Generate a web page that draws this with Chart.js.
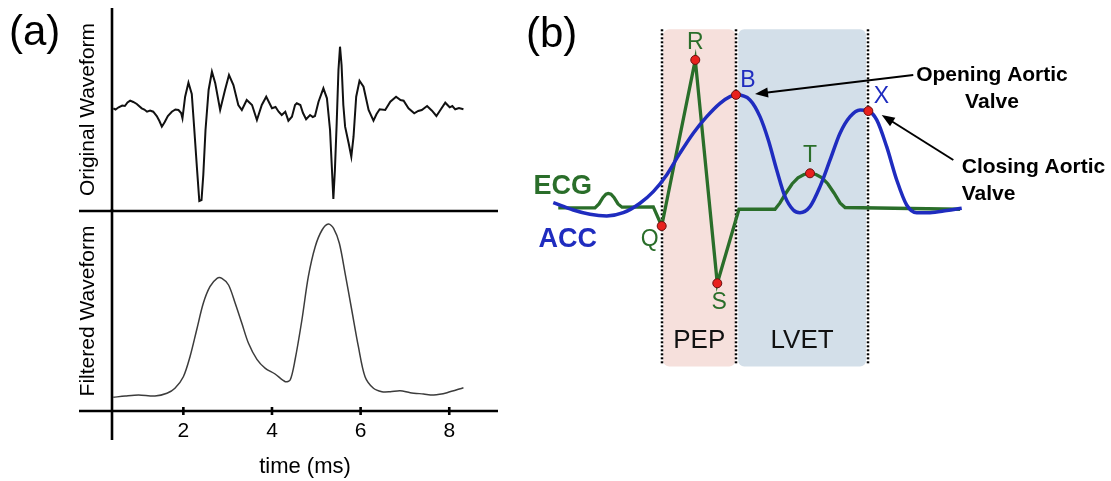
<!DOCTYPE html>
<html><head><meta charset="utf-8">
<script src="https://cdn.jsdelivr.net/npm/chart.js@4/dist/chart.umd.min.js"></script>
<style>
html,body{margin:0;padding:0;background:#fff;width:1111px;height:481px;overflow:hidden}
canvas{position:absolute}
#a1{left:0;top:0;width:520px;height:212px}
#a2{left:0;top:200px;width:520px;height:281px}
#b{left:520px;top:0;width:591px;height:481px}
</style></head><body>
<canvas id="a1" width="520" height="212"></canvas>
<canvas id="a2" width="520" height="281"></canvas>
<canvas id="b" width="591" height="481"></canvas>
<script>
// ---------- Panel (a) data ----------
const timeTicks = [2, 4, 6, 8];
const origTime = [0.42,0.47,0.54,0.62,0.68,0.74,0.80,0.87,0.95,1.00,1.06,1.12,1.18,1.25,1.32,1.40,1.46,1.515,1.58,1.65,1.74,1.82,1.89,1.95,1.98,2.04,2.115,2.19,2.24,2.31,2.36,2.41,2.45,2.50,2.57,2.645,2.72,2.83,2.94,3.03,3.13,3.24,3.32,3.43,3.55,3.66,3.77,3.87,4.0,4.08,4.15,4.22,4.30,4.37,4.45,4.52,4.56,4.64,4.70,4.77,4.86,4.92,4.97,5.05,5.16,5.24,5.31,5.35,5.385,5.42,5.46,5.50,5.535,5.57,5.61,5.65,5.73,5.79,5.84,5.90,5.975,6.065,6.18,6.29,6.36,6.43,6.555,6.67,6.80,6.90,6.97,7.08,7.21,7.30,7.38,7.50,7.61,7.71,7.80,7.91,8.01,8.07,8.135,8.22,8.32];
const origAmp = [0.17,0.05,0.27,0.45,0.4,0.75,0.93,0.8,0.6,0.4,0.17,0.05,-0.17,-0.05,-0.17,-0.6,-1.1,-1.67,-1.2,-0.6,-0.17,0.05,0,-0.3,-0.83,1.33,2.73,1.6,-1.5,-6,-9.1,-9.0,-6.5,-2,2,3.83,2.67,0,2,3.5,2.5,0.5,0,1,0.5,-1,0.5,1.33,0.17,0.3,-0.17,-0.5,-0.17,-1.07,-0.67,0.5,0.67,0.5,-0.3,-0.93,-0.5,-0.7,-0.6,0.83,2.17,1.17,-2,-5.67,-8.9,-6.0,-1.33,4,6.33,4.5,0.5,-1.67,-3.33,-4.67,-2.67,1.33,2.93,2.33,0,-1.07,-0.4,0.07,0,0.83,1.33,1.0,0.93,0.17,-0.33,-0.1,0,0.4,-0.07,-0.6,0,0.73,0.27,0.4,0.07,0.2,0.07];
const filtTime = [0.42,0.69,0.99,1.36,1.63,1.81,2.0,2.15,2.30,2.45,2.60,2.76,2.87,3.02,3.17,3.32,3.47,3.66,3.85,4.07,4.30,4.41,4.52,4.675,4.82,4.975,5.13,5.275,5.39,5.52,5.65,5.80,5.95,6.10,6.29,6.48,6.67,6.89,7.12,7.42,7.65,7.95,8.32];
const filtAmp = [1.37,1.5,1.6,1.5,1.77,2.27,3.43,5.43,8.1,10.77,12.43,13.27,13.27,12.6,10.77,8.77,6.77,5.17,4.27,3.7,2.93,3.1,5.1,9.1,13.43,16.43,18.1,18.7,18.27,16.77,13.77,10.1,6.43,3.43,2.27,1.93,1.93,2.03,1.83,1.7,1.6,1.83,2.33];

// ---------- Panel (b) data ----------
const ecgTime = [-139.2,-89.8,-84.4,-79.0,-75.0,-71.9,-68.2,-64.2,-58.8,-53.4,-11.3,0,45.2,74.8,104.0,152.5,159.2,167.3,175.4,183.4,191.5,199.6,207.7,215.8,223.8,231.9,240.0,246.8,401.5];
const ecgAmp = [0,0,0.027,0.071,0.093,0.098,0.093,0.071,0.027,0.005,0.007,-0.122,1.0,-0.509,-0.009,-0.009,0.034,0.101,0.162,0.203,0.226,0.234,0.226,0.203,0.162,0.101,0.034,0.003,-0.009];
const accTime = [-145.9,-119.0,-96.5,-74.0,-51.7,-29.2,-11.3,6.7,24.6,42.5,60.6,78.5,91.9,100,118.8,132.3,143.5,154.8,166.0,177.1,186.1,199.6,213.1,226.6,240.0,253.5,267.0,278.1,289.4,302.8,316.3,329.7,343.2,361.1,383.6,403.8];
const accAmp = [0.036,-0.014,-0.043,-0.054,-0.032,0.032,0.110,0.223,0.370,0.505,0.617,0.707,0.752,0.764,0.730,0.617,0.459,0.257,0.076,-0.014,-0.032,0.009,0.144,0.324,0.505,0.617,0.662,0.655,0.595,0.414,0.189,0.020,-0.032,-0.032,-0.018,-0.002];
const markerLabels = ['Q','R','S','B','T','X'];
const markerTime = [0, 45.2, 74.8, 100, 199.6, 278.1];
const markerAmp = [-0.122, 1.0, -0.509, 0.764, 0.234, 0.655];
const intervalLabels = ['PEP', 'LVET'];
const intervalStart = [2, 103];
const intervalEnd = [99, 275];
const eventTimes = [0, 100, 278];

const FONT = '"Liberation Sans", Arial, Helvetica, sans-serif';
Chart.defaults.font.family = FONT;
Chart.defaults.color = '#000';

const pts = (xs, ys) => xs.map((v, i) => ({x: v, y: ys[i]}));
const commonPlugins = {legend: {display: false}, tooltip: {enabled: false}};

// ---------- (a) top ----------
const axisStart = 0.39;
new Chart(document.getElementById('a1'), {
  type: 'scatter',
  data: {datasets: [{data: pts(origTime, origAmp), showLine: true, borderColor: '#111', borderWidth: 2, pointRadius: 0, tension: 0}]},
  options: {
    responsive: false, animation: false, events: [],
    layout: {padding: {left: 72, right: 22, top: 8, bottom: 1}, autoPadding: false},
    plugins: commonPlugins,
    scales: {
      x: {type: 'linear', min: axisStart, max: 9.1, display: false},
      y: {min: -10.1, max: 10.2, grid: {display: false, drawTicks: false}, border: {display: false},
          ticks: {display: false},
          title: {display: true, text: 'Original Waveform', font: {size: 21}, color: '#000', padding: {top: 4, bottom: 4}},
          afterFit: s => { s.width = 40; }}
    }
  },
  plugins: [{
    id: 'axA1',
    afterDraw(chart) {
      const {ctx, chartArea: ca, scales: {x}} = chart;
      const xp = x.getPixelForValue(axisStart);
      ctx.save();
      ctx.strokeStyle = '#000'; ctx.lineWidth = 2.6;
      ctx.beginPath(); ctx.moveTo(xp, ca.top); ctx.lineTo(xp, ca.bottom + 3); ctx.stroke();
      ctx.fillStyle = '#000'; ctx.font = '42px ' + FONT; ctx.textAlign = 'left'; ctx.textBaseline = 'middle';
      ctx.fillText('(a)', 9, 33);
      ctx.restore();
    }
  }]
});

// ---------- (a) bottom ----------
new Chart(document.getElementById('a2'), {
  type: 'scatter',
  data: {datasets: [{data: pts(filtTime, filtAmp), showLine: true, borderColor: '#3c3c3c', borderWidth: 1.5, pointRadius: 0, tension: 0.3}]},
  options: {
    responsive: false, animation: false, events: [],
    layout: {padding: {left: 72, right: 22, top: 11, bottom: 0}, autoPadding: false},
    plugins: commonPlugins,
    scales: {
      x: {type: 'linear', min: axisStart, max: 9.1,
          grid: {display: false, drawTicks: false, tickLength: 0}, border: {display: false},
          ticks: {font: {size: 21}, color: '#000', padding: 8},
          afterBuildTicks: s => { s.ticks = timeTicks.map(v => ({value: v})); },
          title: {display: true, text: 'time (ms)', font: {size: 22}, color: '#000', padding: {top: 4, bottom: 1}},
          afterFit: s => { s.height = 70; }},
      y: {min: 0, max: 20, grid: {display: false, drawTicks: false}, border: {display: false},
          ticks: {display: false},
          title: {display: true, text: 'Filtered Waveform', font: {size: 21}, color: '#000', padding: {top: 4, bottom: 4}},
          afterFit: s => { s.width = 40; }}
    }
  },
  plugins: [{
    id: 'axA2',
    afterDraw(chart) {
      const {ctx, chartArea: ca, scales: {x}} = chart;
      const xp = x.getPixelForValue(axisStart);
      ctx.save();
      ctx.strokeStyle = '#000'; ctx.lineWidth = 2.6;
      ctx.beginPath();
      ctx.moveTo(ca.left - 33, ca.top); ctx.lineTo(ca.right, ca.top);
      ctx.moveTo(ca.left - 33, ca.bottom); ctx.lineTo(ca.right, ca.bottom);
      ctx.moveTo(xp, ca.top - 2); ctx.lineTo(xp, ca.bottom + 29);
      timeTicks.forEach(v => { const p = x.getPixelForValue(v); ctx.moveTo(p, ca.bottom - 4); ctx.lineTo(p, ca.bottom + 4); });
      ctx.stroke();
      ctx.restore();
    }
  }]
});

// ---------- (b) ----------
const GREEN = '#2a6e2a', BLUE = '#1f2cbf';
const bStyle = {
  bandColors: ['#f6e0dc', '#d3dfe9'],
  bandTop: 1.207, bandBottom: -1.072, lineBottom: -1.05, intervalLabelAmp: -0.895,
  labelOffsets: {Q: [-12, 14, GREEN], R: [0, -17, GREEN], S: [2, 19, GREEN], B: [12, -14, BLUE], T: [0, -18, GREEN], X: [13, -14, BLUE]},
  seriesLabels: [{text: 'ECG', t: -93.8, v: 0.144, color: GREEN}, {text: 'ACC', t: -87.1, v: -0.216, color: BLUE}],
  notes: [
    {lines: ['Opening Aortic', 'Valve'], t: 444.5, v: 0.899, align: 'center', from: [338.6, 0.899], to: [125.6, 0.770]},
    {lines: ['Closing Aortic', 'Valve'], t: 403.8, v: 0.272, align: 'left', from: [392.5, 0.324], to: [296.1, 0.628]}
  ]
};
function arrow(ctx, x0, y0, x1, y1) {
  const a = Math.atan2(y1 - y0, x1 - x0), L = 13, W = 5;
  ctx.beginPath(); ctx.moveTo(x0, y0); ctx.lineTo(x1 - L * 0.8 * Math.cos(a), y1 - L * 0.8 * Math.sin(a)); ctx.stroke();
  ctx.beginPath(); ctx.moveTo(x1, y1);
  ctx.lineTo(x1 - L * Math.cos(a) + W * Math.sin(a), y1 - L * Math.sin(a) - W * Math.cos(a));
  ctx.lineTo(x1 - L * Math.cos(a) - W * Math.sin(a), y1 - L * Math.sin(a) + W * Math.cos(a));
  ctx.closePath(); ctx.fill();
}
new Chart(document.getElementById('b'), {
  type: 'scatter',
  data: {datasets: [
    {label: 'markers', data: pts(markerTime, markerAmp), showLine: false, pointRadius: 4.5, pointBackgroundColor: '#e8211d', pointBorderColor: '#6b0f0f', pointBorderWidth: 1, order: 0},
    {label: 'ACC', data: pts(accTime, accAmp), showLine: true, borderColor: BLUE, borderWidth: 3.5, pointRadius: 0, cubicInterpolationMode: 'monotone', order: 1},
    {label: 'ECG', data: pts(ecgTime, ecgAmp), showLine: true, borderColor: GREEN, borderWidth: 3.3, pointRadius: 0, tension: 0, borderJoinStyle: 'miter', order: 2}
  ]},
  options: {
    responsive: false, animation: false, events: [],
    layout: {padding: 0, autoPadding: false},
    plugins: commonPlugins,
    scales: {
      x: {type: 'linear', min: -190.7, max: 604.7, display: false},
      y: {min: -1.845, max: 1.405, display: false}
    }
  },
  plugins: [{
    id: 'bDecor',
    beforeDatasetsDraw(chart) {
      const {ctx, scales: {x, y}} = chart;
      ctx.save();
      intervalStart.forEach((s, i) => {
        const x0 = x.getPixelForValue(s), x1 = x.getPixelForValue(intervalEnd[i]);
        const y0 = y.getPixelForValue(bStyle.bandTop), y1 = y.getPixelForValue(bStyle.bandBottom);
        ctx.fillStyle = bStyle.bandColors[i];
        ctx.beginPath();
        if (ctx.roundRect) ctx.roundRect(x0, y0, x1 - x0, y1 - y0, 6); else ctx.rect(x0, y0, x1 - x0, y1 - y0);
        ctx.fill();
        ctx.fillStyle = '#111'; ctx.font = '26px ' + FONT; ctx.textAlign = 'center'; ctx.textBaseline = 'middle';
        ctx.fillText(intervalLabels[i], (x0 + x1) / 2, y.getPixelForValue(bStyle.intervalLabelAmp));
      });
      ctx.strokeStyle = '#000'; ctx.lineWidth = 2.5; ctx.setLineDash([2, 2]);
      eventTimes.forEach(t => {
        const p = Math.round(x.getPixelForValue(t));
        ctx.beginPath(); ctx.moveTo(p, y.getPixelForValue(bStyle.bandTop)); ctx.lineTo(p, y.getPixelForValue(bStyle.lineBottom)); ctx.stroke();
      });
      ctx.restore();
    },
    afterDatasetsDraw(chart) {
      const {ctx, scales: {x, y}} = chart;
      ctx.save();
      ctx.textAlign = 'center'; ctx.textBaseline = 'middle'; ctx.font = '23px ' + FONT;
      markerLabels.forEach((lab, i) => {
        const o = bStyle.labelOffsets[lab];
        ctx.fillStyle = o[2];
        ctx.fillText(lab, x.getPixelForValue(markerTime[i]) + o[0], y.getPixelForValue(markerAmp[i]) + o[1]);
      });
      ctx.font = 'bold 27px ' + FONT; ctx.textAlign = 'right';
      bStyle.seriesLabels.forEach(s => { ctx.fillStyle = s.color; ctx.fillText(s.text, x.getPixelForValue(s.t), y.getPixelForValue(s.v)); });
      ctx.fillStyle = '#000'; ctx.strokeStyle = '#000'; ctx.lineWidth = 2;
      ctx.font = 'bold 21px ' + FONT;
      bStyle.notes.forEach(n => {
        ctx.textAlign = n.align;
        n.lines.forEach((ln, k) => ctx.fillText(ln, x.getPixelForValue(n.t), y.getPixelForValue(n.v) + k * 27));
        arrow(ctx, x.getPixelForValue(n.from[0]), y.getPixelForValue(n.from[1]), x.getPixelForValue(n.to[0]), y.getPixelForValue(n.to[1]));
      });
      ctx.font = '42px ' + FONT; ctx.textAlign = 'left';
      ctx.fillText('(b)', 6, 35);
      ctx.restore();
    }
  }]
});
</script>
</body></html>
